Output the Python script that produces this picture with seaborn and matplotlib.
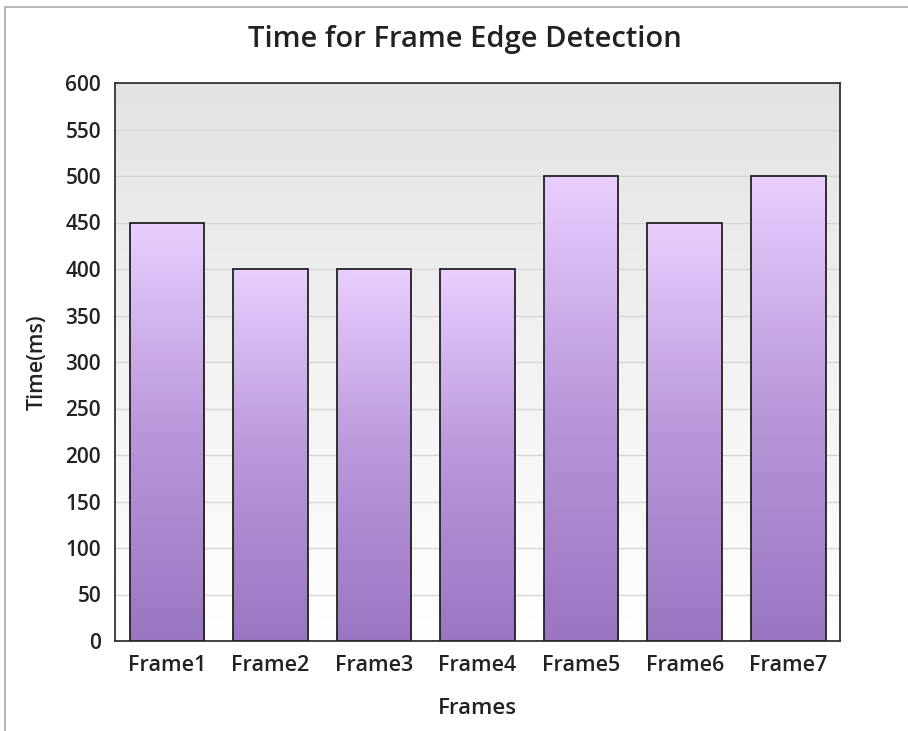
import numpy as np
import pandas as pd
import matplotlib
matplotlib.use("Agg")
import matplotlib.pyplot as plt
from matplotlib.colors import LinearSegmentedColormap
from matplotlib.lines import Line2D
import seaborn as sns

frames = ["Frame1", "Frame2", "Frame3", "Frame4", "Frame5", "Frame6", "Frame7"]
times_ms = [450, 400, 400, 400, 500, 450, 500]
y_ticks = [0, 50, 100, 150, 200, 250, 300, 350, 400, 450, 500, 550, 600]

sns.set_theme(style="white")
plt.rcParams["font.family"] = ["Open Sans", "DejaVu Sans"]

df = pd.DataFrame({"Frames": frames, "Time(ms)": times_ms})

fig = plt.figure(figsize=(9.08, 7.31), dpi=100)
ax = fig.add_axes([115 / 908, 1 - 641 / 731, 725 / 908, 558 / 731])

sns.barplot(data=df, x="Frames", y="Time(ms)", ax=ax, width=0.72,
            color="#c8a8e8", edgecolor="#222222", linewidth=1.3, zorder=3)

ax.set_ylim(0, 600)
ax.set_xlim(-0.5, len(frames) - 0.5)

# background: soft grey at top fading to white at the bottom
bg_cmap = LinearSegmentedColormap.from_list("bg", ["#ffffff", "#f2f2f2", "#e3e3e3"])
grad = np.linspace(0, 1, 256).reshape(-1, 1)
ax.imshow(grad, cmap=bg_cmap, aspect="auto", origin="lower",
          extent=[0, 1, 0, 1], transform=ax.transAxes, zorder=0)

# vertical gradient fill for each bar, clipped to the bar outline
bar_cmap = LinearSegmentedColormap.from_list("bar", ["#9a76c2", "#b897da", "#e9ceff"])
for patch in ax.patches:
    x0, y0 = patch.get_x(), patch.get_y()
    w, h = patch.get_width(), patch.get_height()
    img = ax.imshow(np.linspace(0, 1, 256).reshape(-1, 1), cmap=bar_cmap,
                    aspect="auto", origin="lower",
                    extent=[x0, x0 + w, y0, y0 + h], zorder=3.5)
    img.set_clip_path(patch)
    patch.set_facecolor("none")
    patch.set_zorder(4)
ax.set_xlim(-0.5, len(frames) - 0.5)
ax.set_ylim(0, 600)

ax.set_yticks(y_ticks)
ax.yaxis.grid(True, color="#d6d6d6", linewidth=1.0, zorder=1)
ax.set_axisbelow(True)
for s in ax.spines.values():
    s.set_color("#333333")
    s.set_linewidth(1.3)

ax.tick_params(axis="y", length=0, pad=10, labelsize=15, colors="#222222")
ax.tick_params(axis="x", length=0, pad=10, labelsize=15.5, colors="#222222")
for lab in ax.get_xticklabels() + ax.get_yticklabels():
    lab.set_fontweight("semibold")

ax.set_xlabel("Frames", fontsize=16, fontweight="semibold", color="#222222", labelpad=16)
ax.set_ylabel("Time(ms)", fontsize=15.5, fontweight="semibold", color="#222222", labelpad=13)

fig.text(465 / 908, 1 - 40 / 731, "Time for Frame Edge Detection", ha="center", va="center",
         fontsize=21, color="#222222", fontweight="semibold")

# thin outer frame along the top and left edges
fig.add_artist(Line2D([5 / 908, 1], [1 - 7 / 731, 1 - 7 / 731], transform=fig.transFigure,
                      color="#aaaaaa", linewidth=1.2))
fig.add_artist(Line2D([5 / 908, 5 / 908], [0, 1 - 7 / 731], transform=fig.transFigure,
                      color="#aaaaaa", linewidth=1.2))

fig.savefig("out.png", dpi=100)
